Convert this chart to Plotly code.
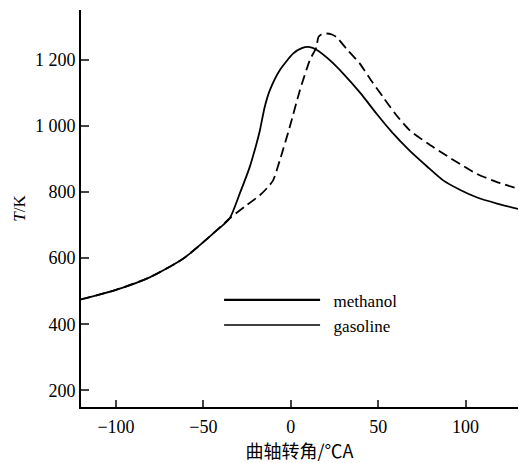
import plotly.graph_objects as go

# crank angle (°CA) and temperature (K)
methanol_x = [-120, -100, -80.7, -61.6, -44.5, -35, -29.2, -23.5, -19.6, -17.7, -14.9, -12, -6.3, 1.3, 6, 10.9, 14.7,
              22, 30, 40, 49, 58, 68, 78, 87.2, 97, 106.3, 118, 130]
methanol_y = [475, 504, 542, 598, 674, 720, 795, 875, 946, 985, 1057, 1107, 1168, 1218, 1234, 1238, 1230,
              1200, 1158, 1098, 1037, 980, 925, 877, 835, 806, 784, 765, 749]

gasoline_x = [-120, -100, -80.7, -61.6, -44.5, -35, -26, -17.7, -13, -10.1, -6.3, -0.6, 5.2, 10.9, 14.7, 15.8,
              17.5, 20.4, 23.5, 26.2, 32, 39.5, 46, 52.8, 60, 68.1, 78, 87.2, 97, 106.3, 118, 130]
gasoline_y = [475, 504, 542, 598, 674, 720, 757, 790, 815, 835, 895, 996, 1107, 1198, 1238, 1268,
              1276, 1279, 1276, 1268, 1232, 1188, 1137, 1087, 1035, 986, 948, 916, 884, 855, 830, 810]

x_ticks = [-100, -50, 0, 50, 100]
y_ticks = [200, 400, 600, 800, 1000, 1200]

SERIF = "Liberation Serif"
NB = "\u00a0\u00a0"

fig = go.Figure()
fig.add_trace(go.Scatter(x=gasoline_x, y=gasoline_y, mode="lines", showlegend=False,
                         line=dict(color="black", width=1.8, dash="10px,5px", shape="spline", smoothing=0.6)))
fig.add_trace(go.Scatter(x=methanol_x, y=methanol_y, mode="lines", showlegend=False,
                         line=dict(color="black", width=1.8, shape="spline", smoothing=0.6)))
fig.add_trace(go.Scatter(x=[None], y=[None], mode="lines", name=NB + "methanol",
                         line=dict(color="black", width=2.2)))
fig.add_trace(go.Scatter(x=[None], y=[None], mode="lines", name=NB + "gasoline",
                         line=dict(color="black", width=1.3)))

fig.update_layout(
    width=519, height=463,
    margin=dict(l=81, r=1, t=10, b=56, autoexpand=False),
    paper_bgcolor="white", plot_bgcolor="white",
    font=dict(family=SERIF, size=18, color="black"),
    separators=". ",
    legend=dict(x=0.316, y=0.314, xanchor="left", yanchor="top", bgcolor="rgba(0,0,0,0)",
                itemwidth=96, tracegroupgap=0, font=dict(family=SERIF, size=17, color="black")),
    xaxis=dict(range=[-120, 130], tickvals=x_ticks, ticks="inside", ticklen=7, tickwidth=1.5,
               showline=True, linecolor="black", linewidth=2, showgrid=False, zeroline=False,
               automargin=False, ticklabelstandoff=2,
               tickfont=dict(family=SERIF, size=18, color="black"),
               title=dict(text="曲轴转角/℃A", font=dict(family="Noto Sans CJK SC", size=18, color="black"),
                          standoff=10)),
    yaxis=dict(range=[150, 1350], tickvals=y_ticks, tickformat=",d", ticks="inside", ticklen=8, tickwidth=1.5,
               showline=True, linecolor="black", linewidth=2, showgrid=False, zeroline=False,
               automargin=False, tickfont=dict(family=SERIF, size=18, color="black"),
               title=dict(text="<i>T</i>/K", font=dict(family=SERIF, size=17, color="black"), standoff=5)),
)

fig.write_html("out.html", config={"displayModeBar": False},
               post_script="document.body.style.margin='0';document.body.style.overflow='hidden';")
